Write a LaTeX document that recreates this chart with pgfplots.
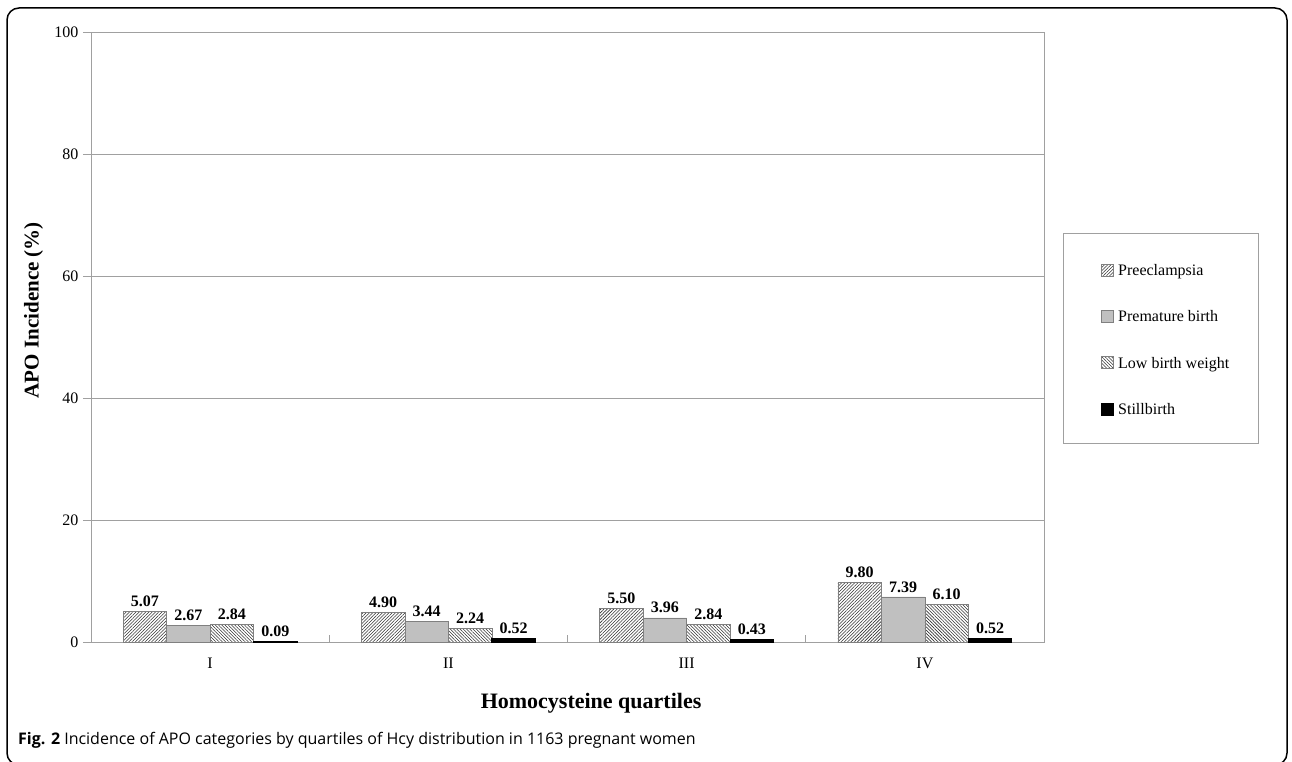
\documentclass[border=0pt]{standalone}
\usepackage{fontspec}
\setmainfont{Liberation Serif}
\newfontfamily\capfont{Open Sans}
\usepackage{pgfplots}
\pgfplotsset{compat=1.18}
\usetikzlibrary{patterns,patterns.meta}

\definecolor{axisgray}{RGB}{160,160,160}
\definecolor{bargray}{RGB}{192,192,192}
\definecolor{edgegray}{RGB}{128,128,128}

\begin{document}
\begin{tikzpicture}
\useasboundingbox (0pt,0pt) rectangle (1292pt,761pt);
% outer figure frame
\draw[line width=1.5pt, rounded corners=12pt] (7pt,-4pt) rectangle (1287pt,753pt);

\begin{axis}[
  at={(91pt,119pt)}, anchor=south west,
  scale only axis, width=953pt, height=610pt,
  xmin=-0.5, xmax=3.5, ymin=0, ymax=100,
  ybar=0pt, bar width=43.5pt,
  axis line style={axisgray, line width=0.8pt},
  xtick={0,1,2,3}, xticklabels={I,II,III,IV},
  minor xtick={0.5,1.5,2.5},
  xtick pos=bottom, ytick pos=left,
  ytick={0,20,40,60,80,100},
  major x tick style={draw=none},
  minor x tick style={axisgray, line width=0.8pt, yshift=7pt},
  minor tick length=7pt,
  major tick length=8pt,
  tick align=outside,
  y tick style={axisgray, line width=0.8pt},
  ymajorgrids, major grid style={axisgray, line width=0.8pt},
  tick label style={font=\fontsize{16}{18}\selectfont},
  /pgf/number format/assume math mode=true,
  xticklabel style={yshift=-4pt},
  yticklabel style={xshift=-1pt},
  xlabel={Homocysteine quartiles},
  xlabel style={font=\bfseries\fontsize{22}{24}\selectfont, at={(rel axis cs:0.5247,-0.1)}, anchor=center},
  ylabel={APO Incidence (\%)},
  ylabel style={font=\bfseries\fontsize{21}{24}\selectfont, at={(rel axis cs:-0.0603,0.544)}, anchor=center},
  nodes near coords={\pgfmathprintnumber[fixed,fixed zerofill,precision=2]{\pgfplotspointmeta}},
  every node near coord/.append style={font=\bfseries\fontsize{16}{18}\selectfont, yshift=1pt},
  legend style={at={(rel axis cs:1.0598,0.6205)}, anchor=north west, draw=none, fill=none,
    inner sep=0pt, row sep=30.3pt,
    nodes={inner sep=0pt, text height=12pt, text depth=4pt, anchor=base west},
    font=\fontsize{16}{18}\selectfont},
  legend cell align=left,
  legend image code/.code={\draw[#1] (0pt,-0.5pt) rectangle (12pt,11.5pt);},
  /tikz/every odd column/.append style={column sep=4pt},
]
\addplot[draw=edgegray, line width=0.6pt, fill=white,
    postaction={pattern={Lines[angle=45, distance=2.3pt, line width=0.55pt]}, pattern color=black!80}]
  coordinates {(0,5.07) (1,4.90) (2,5.50) (3,9.80)};
\addplot[draw=edgegray, line width=0.6pt, fill=bargray]
  coordinates {(0,2.67) (1,3.44) (2,3.96) (3,7.39)};
\addplot[draw=edgegray, line width=0.6pt, fill=white,
    postaction={pattern={Lines[angle=-45, distance=2.3pt, line width=0.55pt]}, pattern color=black!80}]
  coordinates {(0,2.84) (1,2.24) (2,2.84) (3,6.10)};
\addplot[draw=black, line width=1pt, fill=black]
  coordinates {(0,0.09) (1,0.52) (2,0.43) (3,0.52)};
\legend{Preeclampsia, Premature birth, Low birth weight, Stillbirth}
\end{axis}

% legend frame
\draw[axisgray, line width=0.8pt] (1063pt,318pt) rectangle (1258pt,528pt);

% figure caption
\node[anchor=base west, inner sep=0pt, font=\capfont\fontsize{16}{18}\selectfont]
  at (18pt,17pt) {\textbf{Fig. 2} Incidence of APO categories by quartiles of Hcy distribution in 1163 pregnant women};
\end{tikzpicture}
\end{document}
